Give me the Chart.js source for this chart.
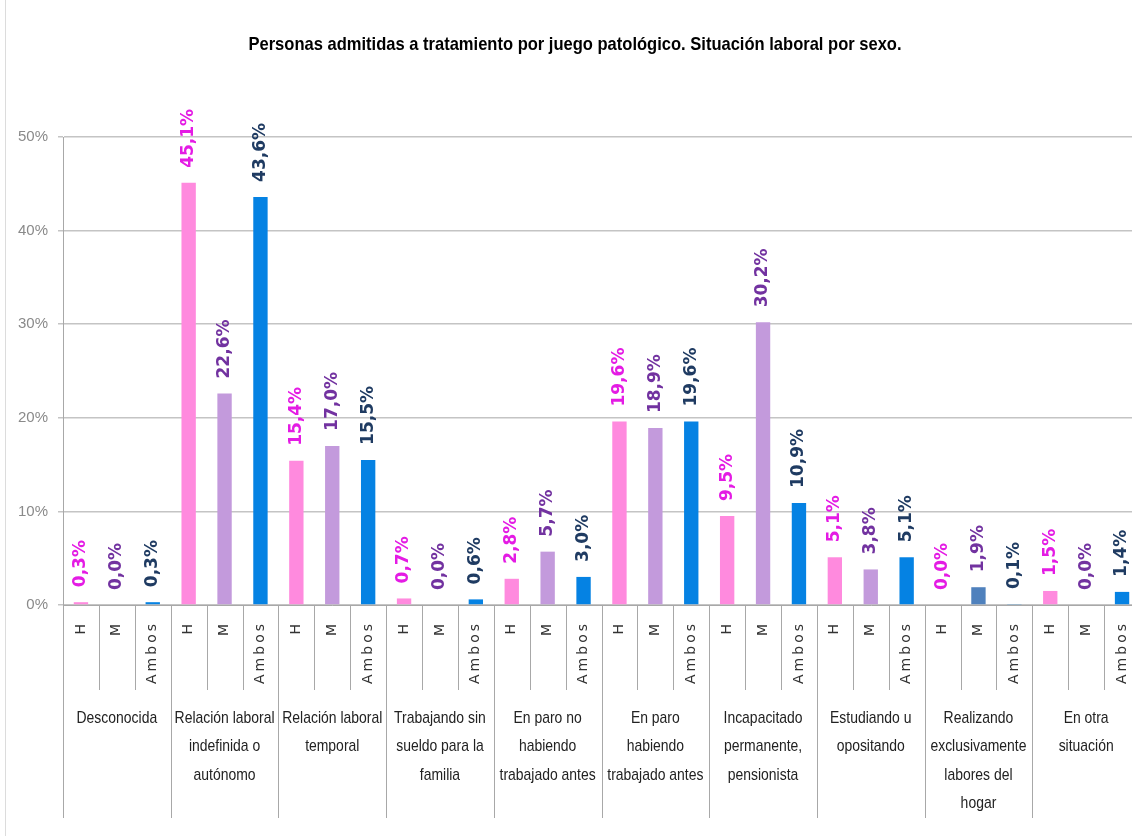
<!DOCTYPE html>
<html>
<head>
<meta charset="utf-8">
<script src="https://cdn.jsdelivr.net/npm/chart.js@4/dist/chart.umd.min.js"></script>
<style>
  html, body { margin: 0; padding: 0; background: #fff; overflow: hidden; }
</style>
</head>
<body>
<canvas id="canvas" width="1140" height="836"></canvas>
<script>
// datos
var chartTitle = "Personas admitidas a tratamiento por juego patológico. Situación laboral por sexo.";
var categories = [
    ["Desconocida"],
    ["Relación laboral", "indefinida o", "autónomo"],
    ["Relación laboral", "temporal"],
    ["Trabajando sin", "sueldo para la", "familia"],
    ["En paro no", "habiendo", "trabajado antes"],
    ["En paro", "habiendo", "trabajado antes"],
    ["Incapacitado", "permanente,", "pensionista"],
    ["Estudiando u", "opositando"],
    ["Realizando", "exclusivamente", "labores del", "hogar"],
    ["En otra", "situación"]
];
var seriesNames = ["H", "M", "Ambos"];
var valuesH     = [0.3, 45.1, 15.4, 0.7, 2.8, 19.6, 9.5, 5.1, 0.0, 1.5];
var valuesM     = [0.0, 22.6, 17.0, 0.0, 5.7, 18.9, 30.2, 3.8, 1.9, 0.0];
var valuesAmbos = [0.3, 43.6, 15.5, 0.6, 3.0, 19.6, 10.9, 5.1, 0.1, 1.4];
var yTickStep = 10, yMax = 50;

// colores
var colorH = "#ff8ade", colorM = "#c39adc", colorAmbos = "#0582e3";
var labelColors = ["#e41be4", "#7232a0", "#1f3b62"];
var colorsM = valuesM.map(function (v, i) { return i === 8 ? "#4f81bd" : colorM; });

function fmt(v) { return v.toFixed(1).replace(".", ",") + "%"; }

// etiquetas de valor giradas
var valueLabels = {
    id: "valueLabels",
    afterDatasetsDraw: function (chart) {
        var ctx = chart.ctx;
        ctx.save();
        ctx.font = "bold 17px DejaVu Sans, Verdana, sans-serif";
        ctx.textAlign = "left";
        ctx.textBaseline = "middle";
        chart.data.datasets.forEach(function (ds, j) {
            ctx.fillStyle = labelColors[j];
            chart.getDatasetMeta(j).data.forEach(function (bar, i) {
                ctx.save();
                ctx.translate(bar.x, bar.y - 15);
                ctx.rotate(-Math.PI / 2);
                ctx.fillText(fmt(ds.data[i]), 0, 0);
                ctx.restore();
            });
        });
        ctx.restore();
    }
};

// eje x de dos niveles + titulo
var groupAxis = {
    id: "groupAxis",
    afterDraw: function (chart) {
        var ctx = chart.ctx, xs = chart.scales.x;
        var bottom = chart.chartArea.bottom;
        var n = categories.length;
        var catW = (xs.right - xs.left) / n;
        ctx.save();

        // marco izquierdo
        ctx.strokeStyle = "#dcdcdc";
        ctx.lineWidth = 1;
        ctx.beginPath(); ctx.moveTo(5.5, 0); ctx.lineTo(5.5, 836); ctx.stroke();

        ctx.strokeStyle = "#a8a8a8";
        ctx.beginPath();
        for (var i = 0; i <= n; i++) {
            var gx = Math.round(xs.left + i * catW) + 0.5;
            ctx.moveTo(gx, bottom); ctx.lineTo(gx, bottom + 213);
            if (i < n) {
                for (var j = 1; j < 3; j++) {
                    var sx = Math.round(xs.left + i * catW + j * catW / 3) + 0.5;
                    ctx.moveTo(sx, bottom); ctx.lineTo(sx, bottom + 85);
                }
            }
        }
        ctx.stroke();

        // H / M / Ambos
        ctx.fillStyle = "#333";
        ctx.font = "14px DejaVu Sans, sans-serif";
        ctx.letterSpacing = "3px";
        ctx.textAlign = "right";
        ctx.textBaseline = "middle";
        chart.data.datasets.forEach(function (ds, j) {
            chart.getDatasetMeta(j).data.forEach(function (bar) {
                ctx.save();
                ctx.translate(bar.x, bottom + 16);
                ctx.rotate(-Math.PI / 2);
                ctx.fillText(seriesNames[j], 0, 0);
                ctx.restore();
            });
        });

        // categorias
        ctx.letterSpacing = "0px";
        ctx.font = "17px Liberation Sans, sans-serif";
        ctx.textAlign = "center";
        ctx.fillStyle = "#222";
        categories.forEach(function (lines, i) {
            var cx = xs.left + (i + 0.5) * catW;
            lines.forEach(function (t, k) {
                ctx.save();
                ctx.translate(cx, bottom + 113 + k * 28.5);
                ctx.scale(0.82, 1);
                ctx.fillText(t, 0, 0);
                ctx.restore();
            });
        });

        // titulo
        ctx.font = "bold 19px Liberation Sans, sans-serif";
        ctx.fillStyle = "#000";
        ctx.save();
        ctx.translate(575, 45);
        ctx.scale(0.87, 1);
        ctx.fillText(chartTitle, 0, 0);
        ctx.restore();

        ctx.restore();
    }
};

var ctx = document.getElementById("canvas").getContext("2d");
var config = {
    type: "bar",
    data: {
        labels: categories.map(function (c) { return c.join(" "); }),
        datasets: [
            { label: "H", data: valuesH, backgroundColor: colorH },
            { label: "M", data: valuesM, backgroundColor: colorsM },
            { label: "Ambos", data: valuesAmbos, backgroundColor: colorAmbos }
        ]
    },
    options: {
        responsive: false,
        animation: false,
        layout: { padding: { left: 8, top: 137, right: 0, bottom: 0 } },
        datasets: { bar: { categoryPercentage: 1.0, barPercentage: 0.4, borderWidth: 0 } },
        plugins: { legend: { display: false }, title: { display: false }, tooltip: { enabled: false } },
        scales: {
            x: {
                grid: { display: false },
                border: { display: true, color: "#a8a8a8", width: 1 },
                ticks: { display: false },
                afterFit: function (s) { s.height = 231; }
            },
            y: {
                min: 0,
                max: yMax,
                ticks: {
                    stepSize: yTickStep,
                    padding: 10,
                    color: "#8a8a8a",
                    font: { family: "'Liberation Sans'", size: 15 },
                    callback: function (v) { return v + "%"; }
                },
                grid: { color: "#c4c4c4", lineWidth: 1.5, tickLength: 5 },
                border: { display: true, color: "#a8a8a8", width: 1 },
                afterFit: function (s) { s.width = 55; }
            }
        }
    },
    plugins: [valueLabels, groupAxis]
};
var myChart = new Chart(ctx, config);
</script>
</body>
</html>
